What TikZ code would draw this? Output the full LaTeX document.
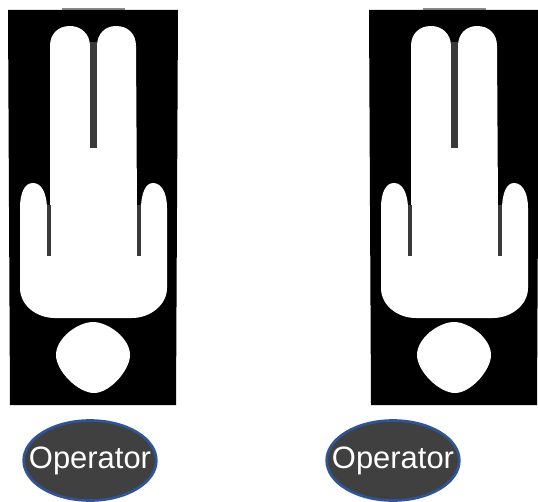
\documentclass[tikz,border=0pt]{standalone}
\usepackage{fontspec}
\setmainfont{Liberation Sans}
\usetikzlibrary{shapes.geometric}
\definecolor{slitgray}{HTML}{3A3A3A}
\definecolor{opfill}{HTML}{404040}
\definecolor{opedge}{HTML}{2F5597}
\tikzset{
  x=0.75pt,y=-0.75pt,
  opnode/.style={ellipse,draw=opedge,line width=2pt,fill=opfill,text=white,
    inner xsep=-10.6pt,inner ysep=0pt,minimum height=60pt,font=\fontsize{23.2}{23.2}\selectfont},
  slit/.style={draw=slitgray,line cap=butt},
  person/.pic={
    \draw[black!45,line width=1.5pt] (62,9) -- (125,9);
    \fill[black] (8,10) -- (178,10) -- (176,405) -- (10,405) -- cycle;
    \fill[white] (50,46) .. controls (50,34) and (58,26) .. (70,26)
      .. controls (81,26) and (90,34) .. (90,46)
      -- (97,46)
      .. controls (97,34) and (105,26) .. (116,26)
      .. controls (128,26) and (136,34) .. (136,46)
      -- (137,210) -- (141,210)
      .. controls (141,192) and (146,183) .. (153,183)
      .. controls (161,183) and (167,192) .. (167,208)
      -- (167,288) .. controls (167,305) and (150,318) .. (132,318)
      -- (55,318) .. controls (36,318) and (20,305) .. (20,288)
      -- (20,208) .. controls (20,192) and (25,183) .. (33,183)
      .. controls (41,183) and (47,192) .. (47,210) -- (50,210) -- cycle;
    \draw[slit,line width=5.2pt] (93.5,42) -- (93.5,148);
    \draw[slit,line width=3pt] (49,205) -- (49,256);
    \draw[slit,line width=3pt] (138.5,205) -- (138.5,256);
    \fill[white] (93,322) .. controls (108,322) and (130,338) .. (130,355)
      .. controls (130,370) and (110,393) .. (94,393)
      .. controls (78,393) and (56,371) .. (56,355)
      .. controls (56,338) and (78,322) .. (93,322) -- cycle;
  }
}
\begin{document}
\begin{tikzpicture}
\useasboundingbox (0,0) rectangle (538,502);
\pic at (0,0) {person};
\pic at (361,0) {person};
\begin{scope}
  \clip (0,0) rectangle (538,502);
  \node[opnode] (opA) at (90,460.5) {Operator};
  \node[opnode] (opB) at (393,460.5) {Operator};
\end{scope}
\end{tikzpicture}
\end{document}
